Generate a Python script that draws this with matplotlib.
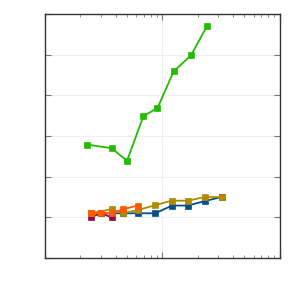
import numpy as np
import matplotlib.pyplot as plt

# series (log x, linear y)
green_x = [2.3, 3.7, 5.0, 6.9, 9.1, 12.5, 17.6, 24]
green_y = [2.79, 2.70, 2.39, 3.49, 3.69, 4.59, 4.99, 5.70]

blue_x = [2.45, 3.0, 3.7, 4.6, 6.2, 8.7, 12.1, 16.6, 23, 32]
blue_y = [1.10, 1.10, 1.10, 1.10, 1.10, 1.10, 1.29, 1.29, 1.40, 1.50]

gold_x = [2.45, 3.7, 4.6, 6.2, 8.7, 12.0, 16.6, 23, 32]
gold_y = [1.10, 1.20, 1.10, 1.18, 1.30, 1.41, 1.41, 1.50, 1.50]

orange_x = [2.45, 3.0, 3.7, 4.6, 6.2]
orange_y = [1.10, 1.10, 1.10, 1.20, 1.29]

purple_x = [2.45, 3.0, 3.7]
purple_y = [1.00, 1.10, 1.00]

fig = plt.figure(figsize=(3, 3), dpi=100)
ax = fig.add_axes([0.15, 0.14, 0.782, 0.813])

series = [
    (purple_x, purple_y, "#8a0a52"),
    (blue_x, blue_y, "#00508f"),
    (gold_x, gold_y, "#b08a00"),
    (orange_x, orange_y, "#ff5a00"),
    (green_x, green_y, "#22bb00"),
]
for xs, ys, col in series:
    ax.plot(xs, ys, color=col, lw=1.3, marker="s", ms=5,
            mfc=col, mec=col, mew=0.5)

ax.set_xscale("log")
ax.set_xlim(1, 100)
ax.set_ylim(0, 6)
ax.set_yticks(np.arange(0, 7, 1))
ax.grid(True, which="major", color="#eeeeee", lw=0.8)
ax.set_axisbelow(True)
ax.tick_params(which="both", direction="in", top=True, right=True,
               labelbottom=False, labelleft=False, color="#777777")
ax.tick_params(which="major", length=4)
ax.tick_params(which="minor", length=2.5)
for s in ax.spines.values():
    s.set_color("#333333")
    s.set_linewidth(1)

fig.savefig("out.png", dpi=100)
